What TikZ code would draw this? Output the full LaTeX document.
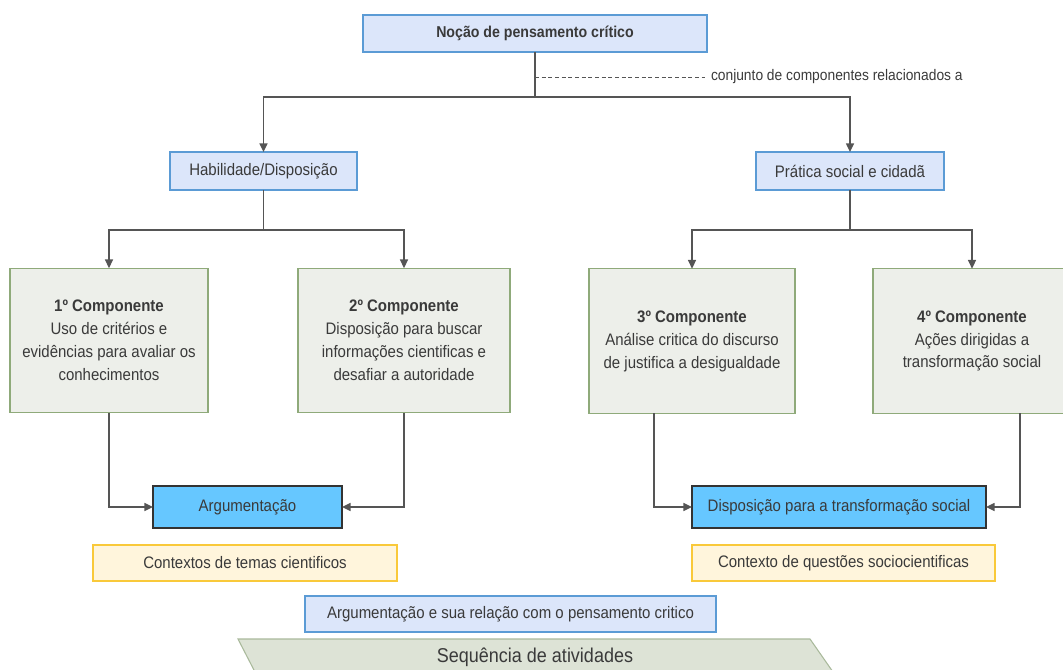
\documentclass[tikz,border=0pt]{standalone}
\usepackage{fontspec}
\setmainfont{Liberation Sans}[FakeStretch=0.9]
\usetikzlibrary{arrows.meta,calc}
\definecolor{txt}{HTML}{3A3A3A}
\definecolor{ln}{HTML}{555555}
\definecolor{bluefill}{HTML}{DCE6FA}
\definecolor{blueline}{HTML}{5B9BD5}
\definecolor{compfill}{HTML}{EDEFEA}
\definecolor{compline}{HTML}{8FAA7A}
\definecolor{argfill}{HTML}{66C7FF}
\definecolor{argline}{HTML}{333333}
\definecolor{ctxfill}{HTML}{FFF5DC}
\definecolor{ctxline}{HTML}{F9C93A}
\definecolor{chevfill}{HTML}{DDE3D6}
\definecolor{chevline}{HTML}{A9B99B}
\tikzset{
  base/.style={inner sep=0pt, outer sep=0pt, text=txt, align=center,
    font=\fontsize{12.5}{17.2}\selectfont},
  bluebox/.style={base, draw=blueline, fill=bluefill, line width=0.8pt},
  compbox/.style={base, draw=compline, fill=compfill, line width=0.8pt,
    minimum height=108.5pt},
  argbox/.style={base, draw=argline, fill=argfill, line width=0.8pt,
    minimum height=31.5pt},
  ctxbox/.style={base, draw=ctxline, fill=ctxfill, line width=0.8pt,
    minimum height=27pt},
  conn/.style={draw=ln, line width=1.1pt},
  arr/.style={conn, -{Triangle[length=6.5pt,width=6pt]}},
}
\begin{document}
\begin{tikzpicture}[x=0.75pt,y=-0.75pt]
\useasboundingbox (0,0) rectangle (1063,670);

% top
\node[bluebox, minimum width=258pt, minimum height=27.75pt,
  font=\fontsize{11.8}{14}\selectfont\bfseries] (top) at (535,33.5)
  {Noção de pensamento crítico};
\node[bluebox, minimum width=140.25pt, minimum height=28.5pt] (hab) at (263.5,171)
  {Habilidade/Disposição};
\node[bluebox, minimum width=141pt, minimum height=28.5pt] (pra) at (850,171)
  {Prática social e cidadã};

% components
\node[compbox, minimum width=148.5pt] (c1) at (109,340.5)
  {\textbf{1º Componente}\\Uso de critérios e\\evidências para avaliar os\\conhecimentos};
\node[compbox, minimum width=159pt] (c2) at (404,340.5)
  {\textbf{2º Componente}\\Disposição para buscar\\informações cientificas e\\desafiar a autoridade};
\node[compbox, minimum width=154.5pt] (c3) at (692,341)
  {\textbf{3º Componente}\\Análise critica do discurso\\de justifica a desigualdade};
\node[compbox, minimum width=148.5pt] (c4) at (972,341)
  {\textbf{4º Componente}\\Ações dirigidas a\\transformação social};

% results
\node[argbox, minimum width=141.75pt] (arg) at (247.5,507) {Argumentação};
\node[argbox, minimum width=220.5pt] (disp) at (839,507) {Disposição para a transformação social};

\node[ctxbox, minimum width=228pt] (ctx1) at (245,563) {Contextos de temas cientificos};
\node[ctxbox, minimum width=227.25pt] (ctx2) at (843.5,563) {Contexto de questões sociocientificas};

\node[bluebox, minimum width=308.25pt, minimum height=27pt] (rel) at (510.5,614)
  {Argumentação e sua relação com o pensamento critico};

% chevron
\draw[fill=chevfill, draw=chevline, line width=0.8pt]
  (238,639) -- (810,639) -- (833,672) -- (810,705) -- (238,705) -- (255,672) -- cycle;
\node[base, font=\fontsize{15}{18}\selectfont] (seq) at (535,657) {Sequência de atividades};

% connectors top
\coordinate (j1) at (535,97);
\coordinate (d1) at (535,77);
\coordinate (d2) at (705,77);
\draw[conn] (top.south) -- (j1);
\draw[arr] (j1) -| (hab.north);
\draw[arr] (j1) -| (pra.north);
\draw[draw=ln, line width=0.7pt, dash pattern=on 3pt off 2pt] (d1) -- (d2);
\node[base, anchor=west, font=\fontsize{11.5}{14}\selectfont] (lbl) at (711,77)
  {conjunto de componentes relacionados a};

% second level
\coordinate (j2) at (263.5,230);
\coordinate (j3) at (850,230);
\draw[conn] (hab.south) -- (j2);
\draw[arr] (j2) -| (c1.north);
\draw[arr] (j2) -| (c2.north);
\draw[conn] (pra.south) -- (j3);
\draw[arr] (j3) -| (c3.north);
\draw[arr] (j3) -| (c4.north);

% bottom
\draw[arr] (c1.south) |- (arg.west);
\draw[arr] (c2.south) |- (arg.east);
\coordinate (c3b) at ($(c3.south west)+(65,0)$);
\coordinate (c4b) at ($(c4.south west)+(147,0)$);
\draw[arr] (c3b) |- (disp.west);
\draw[arr] (c4b) |- (disp.east);
\end{tikzpicture}
\end{document}
